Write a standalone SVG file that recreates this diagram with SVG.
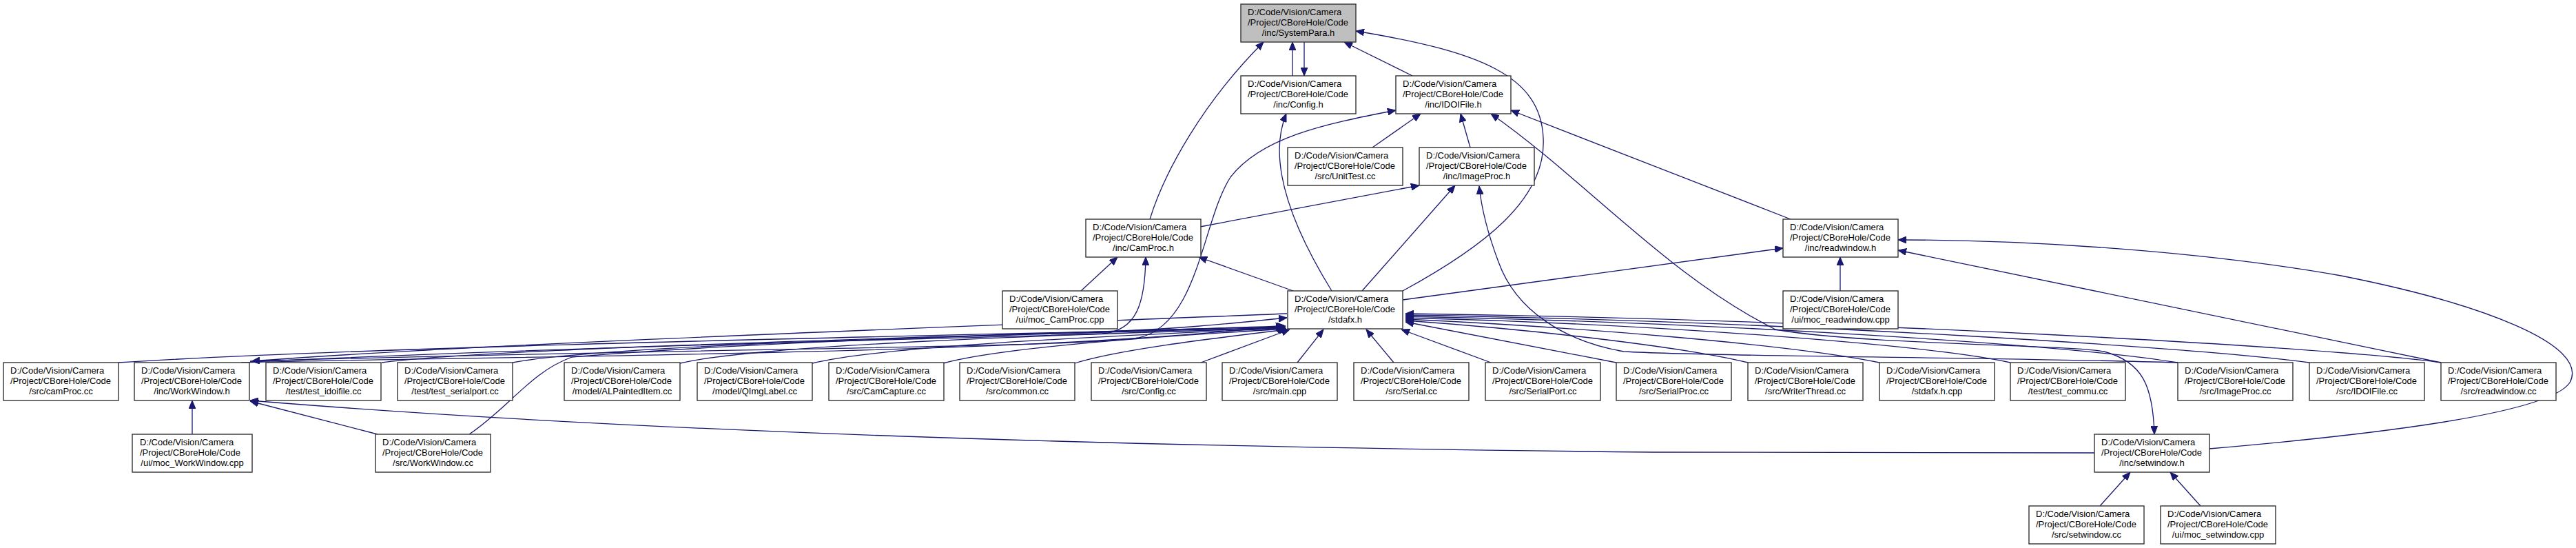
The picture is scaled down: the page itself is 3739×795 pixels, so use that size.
<svg xmlns="http://www.w3.org/2000/svg" width="3739" height="795" viewBox="0 0 3739 795">
<style>
.n rect{fill:#fff;stroke:#333;stroke-width:1.4}
.n.hl rect{fill:#bfbfbf}
.n text{font-family:"Liberation Sans",Arial,sans-serif;font-size:13px;fill:#000}
.n text.c{text-anchor:middle}
.e path{fill:none;stroke:#191970;stroke-width:1.3;marker-end:url(#ah)}
.e path.both{marker-start:url(#ahs)}
</style>
<defs>
<marker id="ah" viewBox="0 0 12 10" refX="12" refY="5" markerWidth="12" markerHeight="10" markerUnits="userSpaceOnUse" orient="auto"><path d="M0,0 L12,5 L0,10 z" fill="#191970" stroke="#191970" stroke-width="1"/></marker>
<marker id="ahs" viewBox="0 0 12 10" refX="12" refY="5" markerWidth="12" markerHeight="10" markerUnits="userSpaceOnUse" orient="auto-start-reverse"><path d="M0,0 L12,5 L0,10 z" fill="#191970" stroke="#191970" stroke-width="1"/></marker>
</defs>
<rect width="3739" height="795" fill="#fff"/>
<g id="edges" class="e">
<path d="M1876,110 L1876,61"/>
<path d="M1893,61 L1893,110"/>
<path d="M2050,110 L1951,61"/>
<path d="M1669,318 C1690,250 1745,150 1834,61"/>
<path d="M2036,422 C2150,360 2245,290 2240,200 C2236,110 2150,75 1968,45"/>
<path d="M1933,422 C1870,320 1840,230 1867,165"/>
<path d="M1992,214 L2062,165"/>
<path d="M2134,214 L2120,165"/>
<path d="M363,524 C1000,505 1560,505 1653,490 C1740,470 1745,320 1786,257 C1830,200 1920,180 2026,160"/>
<path d="M363,525 C900,500 1450,490 1600,484 C1650,480 1662,440 1663,373"/>
<path d="M2599,318 L2193,160"/>
<path class="both" d="M2164,165 C2300,260 2420,400 2577,478 C2700,500 3000,500 3054,510 C3110,525 3125,560 3127,630"/>
<path d="M1742,329 L2060,269"/>
<path d="M1977,422 L2112,269"/>
<path d="M3161,526 C2900,518 2500,518 2357,510 C2270,495 2200,450 2175,380 C2160,340 2150,300 2147,270"/>
<path d="M1877,422 L1740,373"/>
<path d="M1569,422 L1622,373"/>
<path d="M2036,435 L2588,360"/>
<path d="M2671,422 L2671,373"/>
<path d="M3543,526 L2755,363"/>
<path d="M3207,651 C3450,630 3700,600 3730,555 C3760,500 3600,440 3398,400 C3200,365 2950,348 2755,348"/>
<path d="M3040,657 L2400,656 C1600,648 900,625 363,581"/>
<path d="M548,630 L363,582"/>
<path d="M279,630 L279,581"/>
<path d="M3048,734 L3092,685"/>
<path d="M3194,734 L3150,685"/>
<path d="M1868,455 C1500,470 700,498 365,524"/>
<path d="M350,526 C800,515 1500,515 1864,472"/>
<path d="M172,526 C500,505 1200,490 1600,481 C1700,478 1780,470 1868,461"/>
<path d="M554,526 C700,505 1400,488 1866,473"/>
<path d="M744,526 C880,500 1450,486 1866,475"/>
<path d="M987,527 C1100,500 1550,485 1865,476"/>
<path d="M1179,527 C1280,502 1600,488 1866,476"/>
<path d="M1369,527 C1450,505 1650,490 1867,477"/>
<path d="M1560,527 C1620,508 1750,492 1868,478"/>
<path d="M681,630 C740,590 770,540 830,518 C1100,495 1600,480 1864,474"/>
<path d="M1743,526 L1872,478"/>
<path d="M1883,526 L1921,478"/>
<path d="M2023,526 L1983,478"/>
<path d="M2164,526 L2034,478"/>
<path d="M2346,526 L2040,467"/>
<path d="M2537,526 C2450,505 2250,480 2040,465"/>
<path d="M2728,526 C2600,500 2300,475 2040,463"/>
<path d="M2918,526 C2800,500 2400,470 2040,461"/>
<path d="M3161,526 C3000,500 2500,468 2040,459"/>
<path d="M3352,526 C3200,505 2600,466 2040,457"/>
<path d="M3543,526 C3400,505 2700,464 2040,455"/>
</g>
<g id="n_systempara_h" class="n hl"><rect x="1801" y="6" width="167" height="55"/><text x="1811" y="22">D:/Code/Vision/Camera</text><text x="1811" y="37">/Project/CBoreHole/Code</text><text class="c" x="1884.5" y="52">/inc/SystemPara.h</text></g>
<g id="n_config_h" class="n"><rect x="1801" y="110" width="167" height="55"/><text x="1811" y="126">D:/Code/Vision/Camera</text><text x="1811" y="141">/Project/CBoreHole/Code</text><text class="c" x="1884.5" y="156">/inc/Config.h</text></g>
<g id="n_idoifile_h" class="n"><rect x="2026" y="110" width="167" height="55"/><text x="2036" y="126">D:/Code/Vision/Camera</text><text x="2036" y="141">/Project/CBoreHole/Code</text><text class="c" x="2109.5" y="156">/inc/IDOIFile.h</text></g>
<g id="n_unittest_cc" class="n"><rect x="1869" y="214" width="167" height="55"/><text x="1879" y="230">D:/Code/Vision/Camera</text><text x="1879" y="245">/Project/CBoreHole/Code</text><text class="c" x="1952.5" y="260">/src/UnitTest.cc</text></g>
<g id="n_imageproc_h" class="n"><rect x="2060" y="214" width="167" height="55"/><text x="2070" y="230">D:/Code/Vision/Camera</text><text x="2070" y="245">/Project/CBoreHole/Code</text><text class="c" x="2143.5" y="260">/inc/ImageProc.h</text></g>
<g id="n_camproc_h" class="n"><rect x="1576" y="318" width="167" height="55"/><text x="1586" y="334">D:/Code/Vision/Camera</text><text x="1586" y="349">/Project/CBoreHole/Code</text><text class="c" x="1659.5" y="364">/inc/CamProc.h</text></g>
<g id="n_readwindow_h" class="n"><rect x="2588" y="318" width="167" height="55"/><text x="2598" y="334">D:/Code/Vision/Camera</text><text x="2598" y="349">/Project/CBoreHole/Code</text><text class="c" x="2671.5" y="364">/inc/readwindow.h</text></g>
<g id="n_moc_camproc_cpp" class="n"><rect x="1455" y="422" width="167" height="55"/><text x="1465" y="438">D:/Code/Vision/Camera</text><text x="1465" y="453">/Project/CBoreHole/Code</text><text class="c" x="1538.5" y="468">/ui/moc_CamProc.cpp</text></g>
<g id="n_stdafx_h" class="n"><rect x="1869" y="422" width="167" height="55"/><text x="1879" y="438">D:/Code/Vision/Camera</text><text x="1879" y="453">/Project/CBoreHole/Code</text><text class="c" x="1952.5" y="468">/stdafx.h</text></g>
<g id="n_moc_readwindow_cpp" class="n"><rect x="2588" y="422" width="167" height="55"/><text x="2598" y="438">D:/Code/Vision/Camera</text><text x="2598" y="453">/Project/CBoreHole/Code</text><text class="c" x="2671.5" y="468">/ui/moc_readwindow.cpp</text></g>
<g id="n_camproc_cc" class="n"><rect x="5" y="526" width="167" height="55"/><text x="15" y="542">D:/Code/Vision/Camera</text><text x="15" y="557">/Project/CBoreHole/Code</text><text class="c" x="88.5" y="572">/src/camProc.cc</text></g>
<g id="n_workwindow_h" class="n"><rect x="195" y="526" width="167" height="55"/><text x="205" y="542">D:/Code/Vision/Camera</text><text x="205" y="557">/Project/CBoreHole/Code</text><text class="c" x="278.5" y="572">/inc/WorkWindow.h</text></g>
<g id="n_test_idoifile_cc" class="n"><rect x="386" y="526" width="167" height="55"/><text x="396" y="542">D:/Code/Vision/Camera</text><text x="396" y="557">/Project/CBoreHole/Code</text><text class="c" x="469.5" y="572">/test/test_idoifile.cc</text></g>
<g id="n_test_serialport_cc" class="n"><rect x="577" y="526" width="167" height="55"/><text x="587" y="542">D:/Code/Vision/Camera</text><text x="587" y="557">/Project/CBoreHole/Code</text><text class="c" x="660.5" y="572">/test/test_serialport.cc</text></g>
<g id="n_alpainteditem_cc" class="n"><rect x="819" y="526" width="168" height="55"/><text x="829" y="542">D:/Code/Vision/Camera</text><text x="829" y="557">/Project/CBoreHole/Code</text><text class="c" x="903" y="572">/model/ALPaintedItem.cc</text></g>
<g id="n_qimglabel_cc" class="n"><rect x="1012" y="526" width="167" height="55"/><text x="1022" y="542">D:/Code/Vision/Camera</text><text x="1022" y="557">/Project/CBoreHole/Code</text><text class="c" x="1095.5" y="572">/model/QImgLabel.cc</text></g>
<g id="n_camcapture_cc" class="n"><rect x="1203" y="526" width="167" height="55"/><text x="1213" y="542">D:/Code/Vision/Camera</text><text x="1213" y="557">/Project/CBoreHole/Code</text><text class="c" x="1286.5" y="572">/src/CamCapture.cc</text></g>
<g id="n_common_cc" class="n"><rect x="1393" y="526" width="167" height="55"/><text x="1403" y="542">D:/Code/Vision/Camera</text><text x="1403" y="557">/Project/CBoreHole/Code</text><text class="c" x="1476.5" y="572">/src/common.cc</text></g>
<g id="n_config_cc" class="n"><rect x="1584" y="526" width="167" height="55"/><text x="1594" y="542">D:/Code/Vision/Camera</text><text x="1594" y="557">/Project/CBoreHole/Code</text><text class="c" x="1667.5" y="572">/src/Config.cc</text></g>
<g id="n_main_cpp" class="n"><rect x="1774" y="526" width="167" height="55"/><text x="1784" y="542">D:/Code/Vision/Camera</text><text x="1784" y="557">/Project/CBoreHole/Code</text><text class="c" x="1857.5" y="572">/src/main.cpp</text></g>
<g id="n_serial_cc" class="n"><rect x="1965" y="526" width="167" height="55"/><text x="1975" y="542">D:/Code/Vision/Camera</text><text x="1975" y="557">/Project/CBoreHole/Code</text><text class="c" x="2048.5" y="572">/src/Serial.cc</text></g>
<g id="n_serialport_cc" class="n"><rect x="2156" y="526" width="167" height="55"/><text x="2166" y="542">D:/Code/Vision/Camera</text><text x="2166" y="557">/Project/CBoreHole/Code</text><text class="c" x="2239.5" y="572">/src/SerialPort.cc</text></g>
<g id="n_serialproc_cc" class="n"><rect x="2346" y="526" width="167" height="55"/><text x="2356" y="542">D:/Code/Vision/Camera</text><text x="2356" y="557">/Project/CBoreHole/Code</text><text class="c" x="2429.5" y="572">/src/SerialProc.cc</text></g>
<g id="n_writerthread_cc" class="n"><rect x="2537" y="526" width="167" height="55"/><text x="2547" y="542">D:/Code/Vision/Camera</text><text x="2547" y="557">/Project/CBoreHole/Code</text><text class="c" x="2620.5" y="572">/src/WriterThread.cc</text></g>
<g id="n_stdafx_h_cpp" class="n"><rect x="2728" y="526" width="167" height="55"/><text x="2738" y="542">D:/Code/Vision/Camera</text><text x="2738" y="557">/Project/CBoreHole/Code</text><text class="c" x="2811.5" y="572">/stdafx.h.cpp</text></g>
<g id="n_test_commu_cc" class="n"><rect x="2918" y="526" width="167" height="55"/><text x="2928" y="542">D:/Code/Vision/Camera</text><text x="2928" y="557">/Project/CBoreHole/Code</text><text class="c" x="3001.5" y="572">/test/test_commu.cc</text></g>
<g id="n_imageproc_cc" class="n"><rect x="3161" y="526" width="167" height="55"/><text x="3171" y="542">D:/Code/Vision/Camera</text><text x="3171" y="557">/Project/CBoreHole/Code</text><text class="c" x="3244.5" y="572">/src/ImageProc.cc</text></g>
<g id="n_idoifile_cc" class="n"><rect x="3352" y="526" width="167" height="55"/><text x="3362" y="542">D:/Code/Vision/Camera</text><text x="3362" y="557">/Project/CBoreHole/Code</text><text class="c" x="3435.5" y="572">/src/IDOIFile.cc</text></g>
<g id="n_readwindow_cc" class="n"><rect x="3543" y="526" width="167" height="55"/><text x="3553" y="542">D:/Code/Vision/Camera</text><text x="3553" y="557">/Project/CBoreHole/Code</text><text class="c" x="3626.5" y="572">/src/readwindow.cc</text></g>
<g id="n_moc_workwindow_cpp" class="n"><rect x="192" y="630" width="174" height="55"/><text x="203" y="646">D:/Code/Vision/Camera</text><text x="203" y="661">/Project/CBoreHole/Code</text><text class="c" x="279" y="676">/ui/moc_WorkWindow.cpp</text></g>
<g id="n_workwindow_cc" class="n"><rect x="545" y="630" width="167" height="55"/><text x="555" y="646">D:/Code/Vision/Camera</text><text x="555" y="661">/Project/CBoreHole/Code</text><text class="c" x="628.5" y="676">/src/WorkWindow.cc</text></g>
<g id="n_setwindow_h" class="n"><rect x="3040" y="630" width="167" height="55"/><text x="3050" y="646">D:/Code/Vision/Camera</text><text x="3050" y="661">/Project/CBoreHole/Code</text><text class="c" x="3123.5" y="676">/inc/setwindow.h</text></g>
<g id="n_setwindow_cc" class="n"><rect x="2945" y="734" width="167" height="55"/><text x="2955" y="750">D:/Code/Vision/Camera</text><text x="2955" y="765">/Project/CBoreHole/Code</text><text class="c" x="3028.5" y="780">/src/setwindow.cc</text></g>
<g id="n_moc_setwindow_cpp" class="n"><rect x="3136" y="734" width="167" height="55"/><text x="3146" y="750">D:/Code/Vision/Camera</text><text x="3146" y="765">/Project/CBoreHole/Code</text><text class="c" x="3219.5" y="780">/ui/moc_setwindow.cpp</text></g>
</svg>
